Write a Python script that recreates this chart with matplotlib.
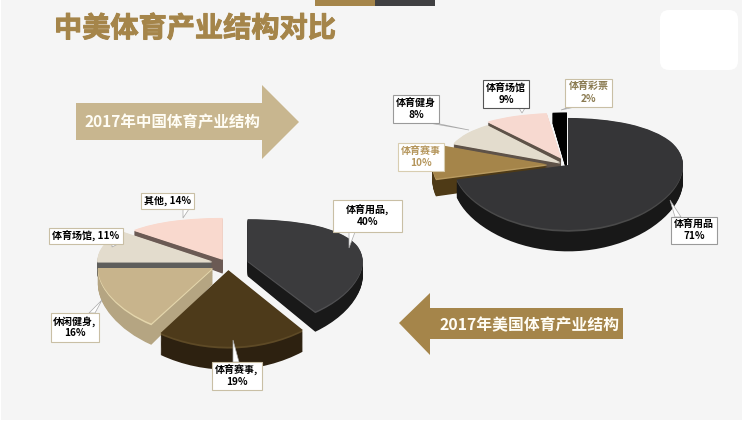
#!/usr/bin/env python3
import numpy as np
import matplotlib
matplotlib.use('Agg')
import matplotlib.pyplot as plt
import matplotlib.patheffects as pe
from matplotlib.patches import FancyBboxPatch, Polygon, Rectangle

plt.rcParams['font.family'] = ['Noto Sans CJK SC', 'DejaVu Sans']

W, H = 742, 425
GOLD = '#a5854a'
TAN = '#c8b68f'

# 中国
cn_names = ['体育用品', '体育赛事', '体育健身', '体育场馆', '体育彩票']
cn_values = [71, 10, 8, 9, 2]
cn_explode = [0, 0.18, 0.08, 0.15, 0.15]
cn_radii = [1, 1, 1, 1, 1]
cn_top = ['#353537', GOLD, '#e3dccd', '#f7d9d0', '#000000']
cn_side = ['#181818', '#4e3a16', '#5e5248', '#5e5248', '#000000']
cn_rim = ['#4a4a4a', '#b89a60', '#e3dccd', '#f7d9d0', '#000000']
cn_order = [4, 3, 2, 1, 0]  # 从后往前

# 美国
us_names = ['体育用品', '体育赛事', '休闲健身', '体育场馆', '其他']
us_values = [40, 19, 16, 11, 14]
us_explode = [0.18, 0.11, 0.15, 0.145, 0.11]
us_radii = [1, 1.1, 1, 1, 1]  # 前面的扇区透视上更大
us_top = ['#3b3b3d', '#4d3a1a', '#c8b48c', '#e3dccd', '#f9d9ce']
us_side = ['#191919', '#2d2110', '#b5a582', '#5e5e5c', '#6b5a54']
us_rim = ['#505052', '#5e4a26', '#e4d6ac', '#e3dccd', '#f9d9ce']
us_order = [4, 3, 2, 0, 1]


def draw_pie(fig, values, explode, radii, top, side, rim, order, cx, cy, rx, ry, k, depth):
    """用 ax.pie 叠层画出带厚度的饼图, y 方向用 function scale 做近大远小"""
    fwd = lambda y: y - k * y * y
    inv = lambda v: (1 - np.sqrt(np.clip(1 - 4 * k * v, 0, None))) / (2 * k)
    lo, hi = -1.7, 1.5
    px_top = cy - ry * fwd(hi)
    px_bot = cy - ry * fwd(lo)
    ax = fig.add_axes([(cx - 1.5 * rx) / W, 1 - px_bot / H, 3 * rx / W, (px_bot - px_top) / H])
    ax.set_zorder(1)
    ax.patch.set_visible(False)

    rank = {idx: pos for pos, idx in enumerate(order)}
    layers = 24
    for n in range(layers, -1, -1):
        if n == 0:
            colors = top
        elif n <= 2:
            colors = rim
        else:
            colors = side
        wedges, _ = ax.pie(values, explode=explode, colors=colors, startangle=90,
                           counterclock=False, center=(0, -depth * n / layers))
        for i, w in enumerate(wedges):
            w.set_radius(radii[i])
            w.set_zorder(rank[i] * 100 + (layers - n))
            w.set_linewidth(0)
    ax.set_aspect('auto')
    ax.set_yscale('function', functions=(fwd, inv))
    ax.set_xlim(-1.5, 1.5)
    ax.set_ylim(lo, hi)
    ax.axis('off')


def label(ax, text, box, tip, color='black', edge='#c9bfa5'):
    x0, y0, x1, y1 = box
    if tip is not None:
        tx, ty = tip
        if ty > y1:
            base = [(min(max(tx, x0 + 4), x1 - 10), y1), (min(max(tx, x0 + 4), x1 - 10) + 6, y1)]
        elif ty < y0:
            base = [(min(max(tx, x0 + 4), x1 - 10), y0), (min(max(tx, x0 + 4), x1 - 10) + 6, y0)]
        elif tx > x1:
            base = [(x1, y1 - 10), (x1, y1 - 4)]
        else:
            base = [(x0, y0 + 4), (x0, y0 + 10)]
        ax.add_patch(Polygon(base + [tip], closed=True, fc='white', ec='#a8a8a8', lw=0.5, zorder=3))
    ax.add_patch(Rectangle((x0, y0), x1 - x0, y1 - y0, fc='white', ec=edge, lw=0.8, zorder=4))
    ax.text((x0 + x1) / 2, (y0 + y1) / 2, text, ha='center', va='center', fontsize=7.2,
            fontweight='bold', color=color, linespacing=1.15, zorder=5)


fig = plt.figure(figsize=(W / 100, H / 100), dpi=100, facecolor='white')

bg = fig.add_axes([0, 0, 1, 1])
bg.set_xlim(0, W)
bg.set_ylim(H, 0)
bg.axis('off')
bg.set_zorder(0)
bg.add_patch(Rectangle((1, 0), W, 420, fc='#f5f5f5', ec='none'))
bg.add_patch(FancyBboxPatch((666, 16), 66, 48, boxstyle='round,pad=6,rounding_size=9', fc='white', ec='none'))
bg.add_patch(Rectangle((315, 0), 60, 6, fc=GOLD, ec='none'))
bg.add_patch(Rectangle((375, 0), 60, 6, fc='#404042', ec='none'))
bg.text(54, 29, '中美体育产业结构对比', fontsize=20.3, fontweight='bold', color=GOLD, va='center', ha='left',
        path_effects=[pe.withStroke(linewidth=0.7, foreground=GOLD)])

# 箭头
bg.add_patch(Polygon([(76, 103), (262, 103), (262, 85), (299, 122), (262, 159), (262, 140), (76, 140)],
                     closed=True, fc=TAN, ec='none'))
bg.text(172, 122, '2017年中国体育产业结构', fontsize=11.2, fontweight='bold', color='#fffdf5', ha='center', va='center')
bg.add_patch(Polygon([(399, 323), (430, 293), (430, 308), (623, 308), (623, 339), (430, 339), (430, 355)],
                     closed=True, fc=GOLD, ec='none'))
bg.text(530, 325, '2017年美国体育产业结构', fontsize=11.4, fontweight='bold', color='#fffdf5', ha='center', va='center')

draw_pie(fig, cn_values, cn_explode, cn_radii, cn_top, cn_side, cn_rim, cn_order, 568, 165, 115, 56, 0.16, 0.28)
draw_pie(fig, us_values, us_explode, us_radii, us_top, us_side, us_rim, us_order, 228, 264, 115, 54.5, 0.21, 0.27)

top = fig.add_axes([0, 0, 1, 1])
top.set_xlim(0, W)
top.set_ylim(H, 0)
top.axis('off')
top.set_zorder(2)

label(top, f'{cn_names[3]}\n{cn_values[3]}%', (483, 80, 529, 108), (522, 113), edge='#555555')
label(top, f'{cn_names[4]}\n{cn_values[4]}%', (565, 79, 612, 107), (561, 110), color='#8a7a50')
label(top, f'{cn_names[2]}\n{cn_values[2]}%', (393, 95, 439, 123), (469, 130), edge='#9a9a9a')
label(top, f'{cn_names[1]}\n{cn_values[1]}%', (398, 143, 444, 171), None, color='#b5965c', edge='#d8cdb0')
label(top, f'{cn_names[0]}\n{cn_values[0]}%', (671, 217, 717, 244), (670, 200), edge='#9a9a9a')

label(top, f'{us_names[4]}, {us_values[4]}%', (141, 193, 194, 209), (183, 218))
label(top, f'{us_names[3]}, {us_values[3]}%', (49, 228, 123, 244), (112, 247))
label(top, f'{us_names[0]},\n{us_values[0]}%', (333, 200, 402, 232), (349, 248))
label(top, f'{us_names[2]},\n{us_values[2]}%', (51, 313, 99, 342), (102, 300))
label(top, f'{us_names[1]},\n{us_values[1]}%', (212, 362, 262, 390), (233, 340))

plt.savefig('out.png', dpi=100)
plt.close()
